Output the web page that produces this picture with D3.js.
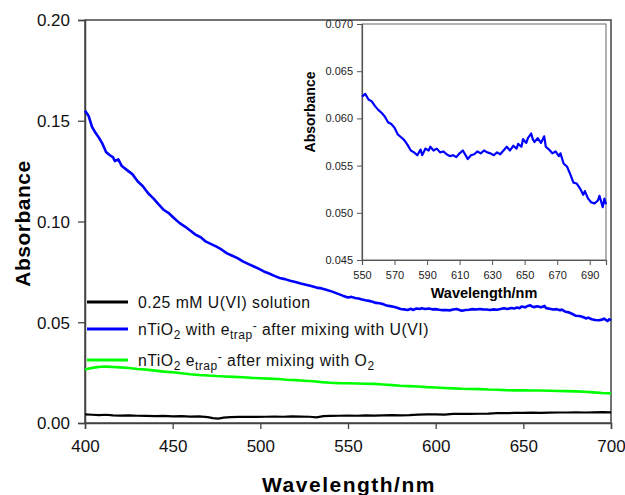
<!DOCTYPE html>
<html>
<head>
<meta charset="utf-8">
<script src="https://cdn.jsdelivr.net/npm/d3@7"></script>
<style>
  html, body { margin: 0; padding: 0; background: #fff; }
  svg { display: block; font-family: "Liberation Sans", Arial, Helvetica, sans-serif; }
</style>
</head>
<body>
<svg id="chart" width="625" height="495"></svg>
<script>
// Tick values
const mainXTicks = [400, 450, 500, 550, 600, 650, 700];
const mainYTicks = [0.00, 0.05, 0.10, 0.15, 0.20];
const insetXTicks = [550, 570, 590, 610, 630, 650, 670, 690];
const insetYTicks = [0.045, 0.050, 0.055, 0.060, 0.065, 0.070];

// nTiO2 with e_trap- after mixing with U(VI)  [wavelength nm, absorbance]
const uviMixSeries = [
  [400,0.1550],[402,0.1525],[404,0.1470],[406,0.1440],[408,0.1415],[410,0.1385],
  [412,0.1345],[414,0.1330],[416,0.1318],[417,0.1300],[419,0.1308],[421,0.1275],
  [424,0.1255],[427,0.1235],[430,0.1200],[433,0.1175],[436,0.1140],[439,0.1115],
  [442,0.1085],[445,0.1057],[448,0.1040],[451,0.1015],[454,0.0992],[457,0.0975],
  [460,0.0955],[463,0.0935],[466,0.0922],[469,0.0900],[472,0.0888],[475,0.0875],
  [478,0.0860],[481,0.0842],[484,0.0830],[487,0.0818],[490,0.0802],[493,0.0790],
  [496,0.0778],[499,0.0766],[502,0.0752],[505,0.0742],[508,0.0730],[511,0.0720],
  [514,0.0714],[517,0.0706],[520,0.0700],[523,0.0692],[526,0.0686],[529,0.0680],
  [532,0.0672],[535,0.0668],[538,0.0660],[541,0.0652],[544,0.0642],[547,0.0632],
  [550,0.0623],[552,0.0626],[554,0.0620],[556,0.0618],[558,0.0613],[560,0.0609],
  [562,0.0606],[564,0.0602],[566,0.0596],[568,0.0594],[570,0.0590],[572,0.0583],
  [574,0.0580],[576,0.0577],[578,0.0572],[580,0.0566],[582,0.0564],[584,0.0561],
  [586,0.0567],[587,0.0561],[589,0.0568],[591,0.0566],[592,0.0570],[594,0.0566],
  [596,0.0568],[598,0.0564],[600,0.0565],[602,0.0562],[604,0.0560],[606,0.0561],
  [608,0.0559],[610,0.0563],[612,0.0566],[614,0.0560],[615,0.0557],[617,0.0561],
  [619,0.0562],[621,0.0565],[623,0.0563],[625,0.0566],[627,0.0564],[629,0.0563],
  [631,0.0561],[633,0.0564],[635,0.0562],[637,0.0566],[639,0.0570],[641,0.0566],
  [643,0.0571],[645,0.0568],[646,0.0573],[648,0.0570],[649,0.0578],[651,0.0574],
  [652,0.0579],[654,0.0584],[655,0.0578],[656,0.0575],[658,0.0579],[660,0.0574],
  [662,0.0581],[663,0.0570],[665,0.0567],[667,0.0563],[669,0.0565],[671,0.0560],
  [672,0.0563],[674,0.0552],[676,0.0549],[678,0.0541],[680,0.0532],[682,0.0531],
  [684,0.0526],[686,0.0519],[687,0.0523],[689,0.0515],[691,0.0511],[693,0.0510],
  [695,0.0513],[696,0.0518],[698,0.0506],[699,0.0515],[700,0.0509]
];

// nTiO2 e_trap- after mixing with O2
const o2MixSeries = [
  [400,0.0265],[403,0.0272],[406,0.0276],[409,0.0279],[412,0.0280],[416,0.0278],
  [420,0.0276],[425,0.0273],[430,0.0268],[435,0.0265],[440,0.0260],[445,0.0255],
  [450,0.0252],[455,0.0247],[460,0.0242],[465,0.0238],[470,0.0236],[475,0.0233],
  [480,0.0231],[485,0.0229],[490,0.0227],[495,0.0224],[500,0.0222],[505,0.0220],
  [510,0.0218],[515,0.0215],[520,0.0213],[525,0.0210],[530,0.0207],[535,0.0203],
  [540,0.0200],[545,0.0198],[550,0.0197],[555,0.0196],[560,0.0195],[565,0.0194],
  [570,0.0191],[575,0.0188],[580,0.0185],[585,0.0183],[590,0.0181],[595,0.0178],
  [600,0.0176],[605,0.0174],[610,0.0172],[615,0.0170],[620,0.0169],[625,0.0168],
  [630,0.0166],[635,0.0165],[640,0.0163],[645,0.0162],[650,0.0162],[655,0.0161],
  [660,0.0161],[665,0.0160],[670,0.0159],[675,0.0158],[680,0.0157],[685,0.0155],
  [690,0.0152],[695,0.0149],[700,0.0147]
];

// 0.25 mM U(VI) solution
const uviSolutionSeries = [
  [400,0.0043],[404,0.0041],[408,0.0039],[412,0.0041],[416,0.0038],[420,0.0037],
  [425,0.0038],[430,0.0036],[435,0.0035],[440,0.0034],[445,0.0035],[450,0.0033],
  [455,0.0034],[460,0.0032],[465,0.0033],[470,0.0029],[473,0.0024],[476,0.0022],
  [479,0.0027],[483,0.0029],[488,0.0030],[493,0.0031],[498,0.0030],[503,0.0031],
  [508,0.0032],[513,0.0031],[518,0.0033],[523,0.0032],[528,0.0031],[532,0.0028],
  [536,0.0034],[540,0.0035],[545,0.0036],[550,0.0037],[555,0.0036],[560,0.0038],
  [565,0.0037],[570,0.0038],[575,0.0039],[580,0.0038],[585,0.0039],[590,0.0042],
  [595,0.0043],[600,0.0043],[605,0.0042],[610,0.0045],[615,0.0046],[620,0.0045],
  [625,0.0046],[630,0.0047],[635,0.0049],[640,0.0049],[645,0.0050],[650,0.0050],
  [655,0.0051],[660,0.0050],[665,0.0051],[670,0.0052],[675,0.0052],[680,0.0053],
  [685,0.0052],[690,0.0053],[695,0.0054],[700,0.0053]
];

// Legend entries
const legendLabels = [
  { key: "sol", color: "#000000", parts: [["0.25 mM U(VI) solution", ""]] },
  { key: "uvi", color: "#0000ff", parts: [["nTiO", ""], ["2", "sub"], [" with e", ""], ["trap", "sub"], ["-", "sup"], [" after mixing with U(VI)", ""]] },
  { key: "o2",  color: "#00ff00", parts: [["nTiO", ""], ["2", "sub"], [" e", ""], ["trap", "sub"], ["-", "sup"], [" after mixing with O", ""], ["2", "sub"]] }
];

const svg = d3.select("#chart");

// ---------- main panel ----------
const M = { left: 85, right: 611, top: 20, bottom: 423 };
const x = d3.scaleLinear().domain([400, 700]).range([M.left, M.right]);
const y = d3.scaleLinear().domain([0, 0.20]).range([M.bottom, M.top]);

const axisColor = "#444";

// frame
svg.append("rect")
  .attr("x", M.left).attr("y", M.top)
  .attr("width", M.right - M.left).attr("height", M.bottom - M.top)
  .attr("fill", "none").attr("stroke", axisColor).attr("stroke-width", 1.5);

const xAxis = svg.append("g")
  .attr("transform", `translate(0,${M.bottom})`)
  .call(d3.axisBottom(x).tickValues(mainXTicks).tickFormat(d3.format("d")).tickSize(6).tickPadding(11));
const yAxis = svg.append("g")
  .attr("transform", `translate(${M.left},0)`)
  .call(d3.axisLeft(y).tickValues(mainYTicks).tickFormat(d3.format(".2f")).tickSize(7).tickPadding(8));

[xAxis, yAxis].forEach(g => {
  g.select(".domain").attr("stroke", axisColor).attr("stroke-width", 1.5);
  g.selectAll(".tick line").attr("stroke", axisColor).attr("stroke-width", 1.3);
  g.selectAll(".tick text")
    .attr("fill", "#111").style("font-size", "17px")
    .style("font-family", "'Liberation Sans', Arial, sans-serif");
});
yAxis.selectAll(".tick text").attr("dy", "0.35em");

svg.append("text")
  .attr("x", (M.left + M.right) / 2 + 1).attr("y", 492)
  .attr("text-anchor", "middle")
  .style("font-size", "21px").style("font-weight", "bold")
  .style("letter-spacing", "1.5px")
  .text("Wavelength/nm");

svg.append("text")
  .attr("transform", `translate(30,${(M.top + M.bottom) / 2 + 2}) rotate(-90)`)
  .attr("text-anchor", "middle")
  .style("font-size", "21px").style("font-weight", "bold")
  .style("letter-spacing", "0.5px")
  .text("Absorbance");

const line = d3.line().x(d => x(d[0])).y(d => y(d[1]));

svg.append("path").datum(uviSolutionSeries)
  .attr("d", line).attr("fill", "none").attr("stroke", "#000").attr("stroke-width", 2.2);
svg.append("path").datum(o2MixSeries)
  .attr("d", line).attr("fill", "none").attr("stroke", "#00ff00").attr("stroke-width", 2.6);
svg.append("path").datum(uviMixSeries)
  .attr("d", line).attr("fill", "none").attr("stroke", "#0000ff").attr("stroke-width", 2.6)
  .attr("stroke-linejoin", "round");

// ---------- legend ----------
const legendY = [302, 329, 360];
const legend = svg.append("g");
legendLabels.forEach((item, i) => {
  const ly = legendY[i];
  legend.append("line")
    .attr("x1", 87).attr("x2", 128).attr("y1", ly).attr("y2", ly)
    .attr("stroke", item.color).attr("stroke-width", 2.8);
  const t = legend.append("text")
    .attr("x", 138).attr("y", ly + 5.5)
    .style("font-size", "15.8px").style("letter-spacing", "0.5px").attr("fill", "#111");
  item.parts.forEach(([s, kind]) => {
    const ts = t.append("tspan").text(s);
    if (kind === "sub") ts.attr("baseline-shift", "-30%").style("font-size", "12px");
    if (kind === "sup") ts.attr("baseline-shift", "45%").style("font-size", "12px");
  });
});

// ---------- inset ----------
const I = { left: 362, right: 606, top: 24, bottom: 260 };
const xi = d3.scaleLinear().domain([550, 700]).range([I.left, I.right]);
const yi = d3.scaleLinear().domain([0.045, 0.070]).range([I.bottom, I.top]);

svg.append("rect")
  .attr("x", I.left).attr("y", I.top)
  .attr("width", I.right - I.left).attr("height", I.bottom - I.top)
  .attr("fill", "#fff").attr("stroke", "#666").attr("stroke-width", 1);

const xiAxis = svg.append("g")
  .attr("transform", `translate(0,${I.bottom})`)
  .call(d3.axisBottom(xi).tickValues(insetXTicks).tickFormat(d3.format("d")).tickSize(5).tickPadding(6));
const yiAxis = svg.append("g")
  .attr("transform", `translate(${I.left},0)`)
  .call(d3.axisLeft(yi).tickValues(insetYTicks).tickFormat(d3.format(".3f")).tickSize(5).tickPadding(4));

[xiAxis, yiAxis].forEach(g => {
  g.select(".domain").attr("stroke", "#555").attr("stroke-width", 1.2);
  g.selectAll(".tick line").attr("stroke", "#555");
  g.selectAll(".tick text")
    .attr("fill", "#222").style("font-size", "11px")
    .style("font-family", "'Liberation Sans', Arial, sans-serif");
});

const lineInset = d3.line().x(d => xi(d[0])).y(d => yi(d[1]));
svg.append("path").datum(uviMixSeries.filter(d => d[0] >= 550))
  .attr("d", lineInset).attr("fill", "none").attr("stroke", "#0000ff").attr("stroke-width", 2.2)
  .attr("stroke-linejoin", "round");

svg.append("text")
  .attr("x", 484).attr("y", 298)
  .attr("text-anchor", "middle")
  .style("font-size", "14.5px").style("font-weight", "bold")
  .text("Wavelength/nm");

svg.append("text")
  .attr("transform", `translate(315,112) rotate(-90)`)
  .attr("text-anchor", "middle")
  .style("font-size", "14px").style("font-weight", "bold")
  .text("Absorbance");
</script>
</body>
</html>
